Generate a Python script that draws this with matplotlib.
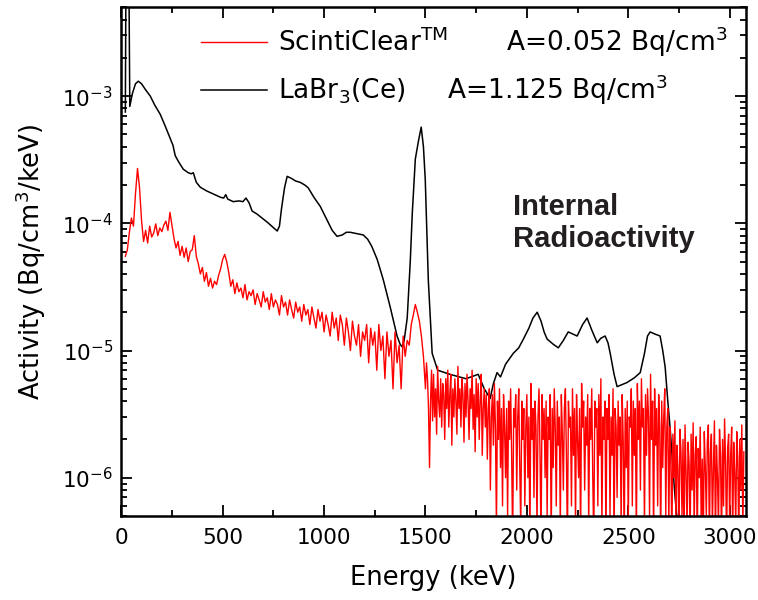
import numpy as np
import matplotlib
matplotlib.use('Agg')
import matplotlib.pyplot as plt
from matplotlib.ticker import MultipleLocator, LogLocator

# LaBr3(Ce) spectrum (keV, Bq/cm3/keV)
labr_energy = [20, 24, 36, 42, 55, 70, 84, 100, 120, 143, 165, 192, 215, 242, 255, 266,
               285, 306, 330, 345, 355, 370, 390, 420, 454, 490, 505, 515, 525, 552,
               580, 600, 615, 630, 645, 670, 700, 720, 745, 769, 780, 790, 805, 818,
               840, 860, 882, 905, 922, 950, 981, 1010, 1040, 1064, 1090, 1110, 1129,
               1160, 1193, 1215, 1235, 1262, 1292, 1326, 1360, 1375, 1385, 1395, 1410,
               1425, 1435, 1450, 1465, 1479, 1490, 1499, 1514, 1533, 1560, 1620, 1700,
               1760, 1790, 1819, 1835, 1853, 1870, 1895, 1933, 1960, 1983, 2010, 2030,
               2051, 2070, 2085, 2100, 2130, 2155, 2180, 2204, 2225, 2248, 2275, 2297,
               2320, 2347, 2365, 2386, 2400, 2411, 2430, 2445, 2470, 2494, 2530, 2559,
               2580, 2595, 2608, 2630, 2657, 2670, 2682, 2695, 2707, 2720, 2731, 2745]
labr_act = [7.5e-4, 2e-2, 2e-2, 8.3e-4, 1.05e-3, 1.25e-3, 1.31e-3, 1.25e-3, 1.12e-3, 1.0e-3,
            8.5e-4, 7.2e-4, 5.9e-4, 4.6e-4, 4.1e-4, 3.4e-4, 3.0e-4, 2.66e-4, 2.5e-4, 2.45e-4,
            2.5e-4, 2.1e-4, 1.92e-4, 1.8e-4, 1.7e-4, 1.6e-4, 1.58e-4, 1.68e-4, 1.55e-4, 1.48e-4,
            1.5e-4, 1.48e-4, 1.58e-4, 1.45e-4, 1.25e-4, 1.18e-4, 1.08e-4, 1.02e-4, 9.4e-5, 8.7e-5,
            9.5e-5, 1.3e-4, 1.9e-4, 2.34e-4, 2.25e-4, 2.15e-4, 2.1e-4, 2.0e-4, 1.9e-4, 1.6e-4,
            1.36e-4, 1.1e-4, 8.8e-5, 7.9e-5, 8.1e-5, 8.5e-5, 8.5e-5, 8.3e-5, 8.1e-5, 7.5e-5,
            6.6e-5, 5.2e-5, 3.6e-5, 2.2e-5, 1.3e-5, 1.12e-5, 1.07e-5, 1.2e-5, 1.8e-5, 5e-5,
            1.2e-4, 3.2e-4, 4.4e-4, 5.7e-4, 4.0e-4, 2.2e-4, 3.6e-5, 9.5e-6, 7e-6, 6.5e-6,
            6e-6, 6.5e-6, 5e-6, 4.2e-6, 5.5e-6, 6.7e-6, 6.2e-6, 7.8e-6, 9.5e-6, 1.05e-5,
            1.23e-5, 1.5e-5, 1.8e-5, 2.0e-5, 1.7e-5, 1.4e-5, 1.23e-5, 1.12e-5, 1.05e-5, 1.2e-5,
            1.4e-5, 1.35e-5, 1.3e-5, 1.6e-5, 1.8e-5, 1.45e-5, 1.15e-5, 1.25e-5, 1.3e-5, 1.15e-5,
            9.5e-6, 6.5e-6, 5.2e-6, 5.4e-6, 5.6e-6, 6.1e-6, 6.7e-6, 9.5e-6, 1.3e-5, 1.4e-5,
            1.35e-5, 1.3e-5, 1.0e-5, 7.4e-6, 4e-6, 2.4e-6, 1.2e-6, 7e-7, 4e-7]

# ScintiClear spectrum in units of 1e-6 Bq/cm3/keV
# 10 keV bins from 20 to 1490 keV
sc_energy_lo = np.arange(20, 1500, 10)
sc_act_lo = [
    55, 62, 85, 110, 95, 170, 270, 190, 105, 72,
    88, 70, 95, 78, 84, 99, 80, 92, 86, 97,
    104, 88, 122, 96, 76, 64, 72, 56, 66, 54,
    64, 50, 60, 62, 80, 55, 48, 40, 45, 35,
    41, 32, 37, 31, 35, 33, 39, 44, 52, 57,
    50, 41, 32, 36, 28, 34, 29, 31, 26, 33,
    25, 29, 27, 30, 23, 28, 25, 22, 29, 24,
    26, 21, 28, 22, 25, 23, 19, 27, 22, 24,
    19, 25, 21, 18, 24, 20, 22, 17, 23, 19,
    21, 16, 22, 18, 15, 21, 17, 20, 14, 19,
    16, 13, 20, 15, 18, 12, 19, 16, 11, 18,
    14, 10, 17, 13, 11, 16, 9, 14, 12, 16,
    8, 15, 11, 14, 7, 16, 10, 13, 6, 14,
    9, 12, 5, 14, 8, 11, 5, 13, 9, 12,
    11, 16, 19, 23, 20, 17, 13, 9]
# 5 keV bins from 1500 to 3070 keV
sc_energy_hi = np.arange(1500, 3075, 5)
sc_act_hi = [
    5, 8, 6, 3.5, 1.2, 4, 7, 2.8, 6.5, 3, 5, 2.2, 7.5, 4, 3, 6, 2.5, 5.5, 4.5, 2,
    6, 3.5, 7, 2.5, 4.5, 6.5, 1.8, 5, 3, 6, 4, 2.2, 7.5, 3.5, 5, 2.5, 6, 4.5, 1.9, 5.5,
    3, 6.5, 4, 2, 5, 3.5, 7, 2.4, 4.5, 1.6, 6, 3, 5.5, 2, 4, 6.5, 1.5, 3.5, 5, 2.5,
    4.5, 1.4, 3.5, 5, 0.8, 3, 4.5, 1.8, 5.5, 2.5, 0.4, 4, 2, 5, 1.2, 3.5, 0.6, 4.5, 2.5, 1,
    3.5, 0.5, 4, 2, 5, 1.5, 0.3, 3.5, 2.5, 4.5, 0.8, 3, 5, 1.2, 0.4, 4, 2, 3.5, 0.6, 2.5,
    4.5, 1, 3, 0.3, 5.5, 2, 3.5, 0.7, 4, 2.5, 0.4, 3, 5, 1.5, 0.3, 4.5, 2, 3.5, 1, 4,
    0.5, 3, 2, 4.5, 0.3, 3.5, 1.2, 5, 2.5, 0.6, 4, 1.8, 3, 0.4, 4.5, 2.2, 0.8, 3.5, 5, 1.5,
    0.3, 4, 2.5, 3, 0.6, 5, 1.5, 3.5, 0.4, 4.5, 2, 1, 3.5, 0.3, 5.5, 2.5, 4, 0.8, 3, 1.8,
    4.5, 0.4, 3.5, 2, 5, 1, 0.3, 4, 2.5, 3.5, 0.6, 4.5, 1.5, 6, 0.4, 3, 2, 4, 0.3, 3.5,
    2, 4.5, 0.5, 3, 1.5, 5, 0.3, 3.5, 2.5, 0.7, 4, 1.8, 3, 0.4, 4.5, 2, 0.3, 3.5, 1.2, 4,
    0.4, 3, 2.5, 5, 0.6, 4, 1.5, 3.5, 0.3, 5.5, 2, 4, 0.8, 6, 2.5, 3.5, 0.4, 4.5, 1.5, 5,
    3, 0.5, 6.5, 2, 4, 0.3, 5, 1.8, 3.5, 0.6, 4.5, 2.5, 0.3, 4, 1.2, 3, 5, 0.5, 2.5, 3.5,
    0.4, 2.5, 1.5, 0.3, 2.2, 1, 2.8, 0.4, 1.8, 1.2, 0.3, 2.4, 1.6, 0.5, 2, 0.3, 2.6, 1.1, 0.4, 1.9,
    1.3, 0.3, 2.2, 0.8, 2.7, 0.4, 1.5, 2.1, 0.3, 1.7, 1, 2.5, 0.4, 1.4, 0.3, 2.3, 1.2, 0.5, 1.9, 2.6,
    0.3, 1.6, 2.2, 0.4, 1.2, 2.8, 0.3, 1.8, 1, 0.4, 2.4, 1.5, 0.3, 2, 0.6, 2.9, 1.3, 0.3, 1.7, 2.2,
    0.4, 1.5, 2.5, 0.3, 1.9, 1.1, 0.4, 2.3, 1.4, 0.3, 2.0, 0.8, 2.6, 0.4, 1.6]
sc_energy = np.concatenate([sc_energy_lo, sc_energy_hi])
sc_act = np.array(sc_act_lo + sc_act_hi) * 1e-6

sc_label = r'ScintiClear$^{\mathrm{TM}}$       A=0.052 Bq/cm$^{3}$'
labr_label = r'LaBr$_{3}$(Ce)     A=1.125 Bq/cm$^{3}$'

fig = plt.figure(figsize=(7.58, 6.0), dpi=100)
ax = fig.add_axes([0.160, 0.140, 0.824, 0.848])

l_labr, = ax.plot(labr_energy, labr_act, color='black', lw=1.1)
l_sc, = ax.plot(sc_energy, sc_act, color='#ff0000', lw=1.0)

ax.set_yscale('log')
ax.set_xlim(0, 3080)
ax.set_ylim(5e-7, 5e-3)

ax.xaxis.set_major_locator(MultipleLocator(500))
ax.xaxis.set_minor_locator(MultipleLocator(250))
ax.yaxis.set_minor_locator(LogLocator(base=10, subs=np.arange(2, 10)))

ax.tick_params(which='both', direction='in', top=True, right=True, width=1.3)
ax.tick_params(which='major', length=8, labelsize=15.5)
ax.tick_params(which='minor', length=4)
ax.tick_params(axis='x', pad=9)
ax.tick_params(axis='y', pad=6)
for s in ax.spines.values():
    s.set_linewidth(1.8)

ax.set_xlabel('Energy (keV)', fontsize=18.5, labelpad=12)
ax.set_ylabel(r'Activity (Bq/cm$^{3}$/keV)', fontsize=18.5, labelpad=10)

leg = ax.legend([l_sc, l_labr], [sc_label, labr_label], loc='upper left',
                bbox_to_anchor=(0.09, 1.012), frameon=False, fontsize=19,
                handlelength=2.5, handletextpad=0.4, labelspacing=0.5)

ax.text(0.627, 0.635, 'Internal\nRadioactivity', transform=ax.transAxes,
        fontsize=21, fontweight='bold', family='Liberation Sans',
        color='#231f20', ha='left', va='top', linespacing=1.2)

fig.savefig('out.png', dpi=100)
